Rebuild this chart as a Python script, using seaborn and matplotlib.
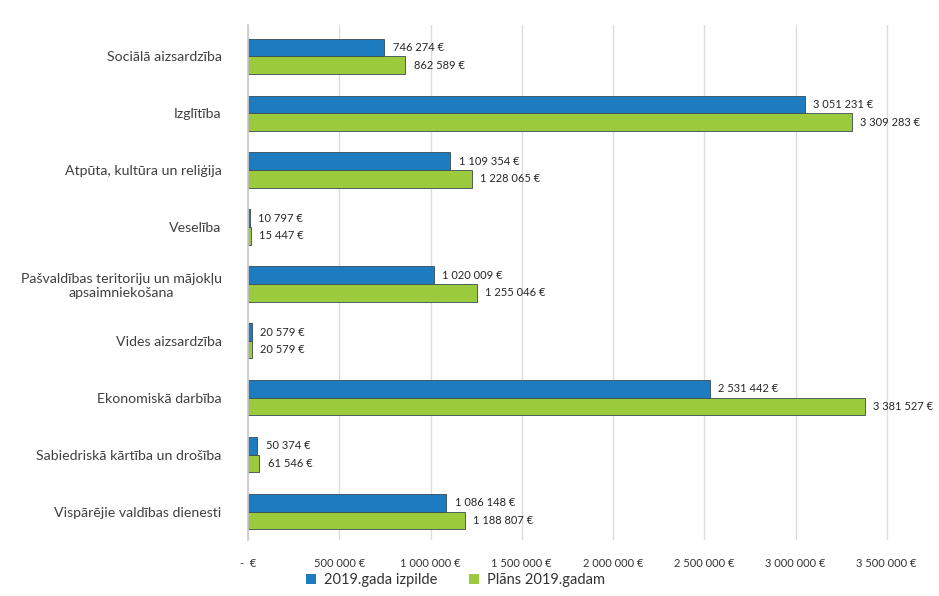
import matplotlib
matplotlib.use("Agg")
import matplotlib.pyplot as plt
import seaborn as sns
import pandas as pd

categories = [
	"Sociālā aizsardzība",
	"Izglītība",
	"Atpūta, kultūra un reliģija",
	"Veselība",
	"Pašvaldības teritoriju un mājokļu\napsaimniekošana",
	"Vides aizsardzība",
	"Ekonomiskā darbība",
	"Sabiedriskā kārtība un drošība",
	"Vispārējie valdības dienesti",
]
izpilde_2019 = [746274, 3051231, 1109354, 10797, 1020009, 20579, 2531442, 50374, 1086148]
plans_2019 = [862589, 3309283, 1228065, 15447, 1255046, 20579, 3381527, 61546, 1188807]
series_names = ["2019.gada izpilde", "Plāns 2019.gadam"]
x_ticks = [0, 500000, 1000000, 1500000, 2000000, 2500000, 3000000, 3500000]

BLUE = "#1d7cc0"
GREEN = "#9bcb3c"

def euro(v):
	if v == 0:
		return "-  €"
	return "{:,}".format(v).replace(",", " ") + " €"

df = pd.DataFrame({
	"cat": categories * 2,
	"value": izpilde_2019 + plans_2019,
	"series": [series_names[0]] * len(categories) + [series_names[1]] * len(categories),
})

sns.set_theme(style="white")
plt.rcParams["font.family"] = ["Lato", "DejaVu Sans"]

fig = plt.figure(figsize=(9.39, 5.96), dpi=100)
ax = fig.add_axes([248 / 939, 1 - 540 / 596, 657 / 939, 515 / 596])

sns.barplot(data=df, y="cat", x="value", hue="series", orient="h",
	palette=[BLUE, GREEN], saturation=1, width=0.62, ax=ax, legend=True,
	edgecolor="#3a4a55", linewidth=0.6)

ax.set_xlim(0, 3600000)
ax.set_ylim(8.5, -0.55)
ax.set_xticks(x_ticks)
ax.set_xticklabels([euro(v) for v in x_ticks], fontsize=8, color="#333333")
ax.tick_params(axis="x", pad=13, length=0)
ax.tick_params(axis="y", pad=19, length=0, labelsize=10.2, labelcolor="#404040")
for lab in ax.get_yticklabels():
	lab.set_multialignment("center")
ax.set_xlabel("")
ax.set_ylabel("")
ax.grid(axis="x", color="#dcdcdc", linewidth=1)
ax.set_axisbelow(True)
for s in ["top", "right", "bottom"]:
	ax.spines[s].set_visible(False)
ax.spines["left"].set_color("#cccccc")

for cont, vals in zip(ax.containers, [izpilde_2019, plans_2019]):
	ax.bar_label(cont, labels=[euro(v) for v in vals], padding=6, fontsize=8, color="#262626")

leg = ax.legend(loc="lower center", bbox_to_anchor=(0.485, 0.0), bbox_transform=fig.transFigure,
	ncol=2, frameon=False, fontsize=10.5, handlelength=0.7, handleheight=0.7,
	columnspacing=2.2, handletextpad=0.5, borderaxespad=0.2)
for t in leg.get_texts():
	t.set_color("#333333")
for h in leg.legend_handles:
	h.set_edgecolor("none")

fig.savefig("out.png", dpi=100)
